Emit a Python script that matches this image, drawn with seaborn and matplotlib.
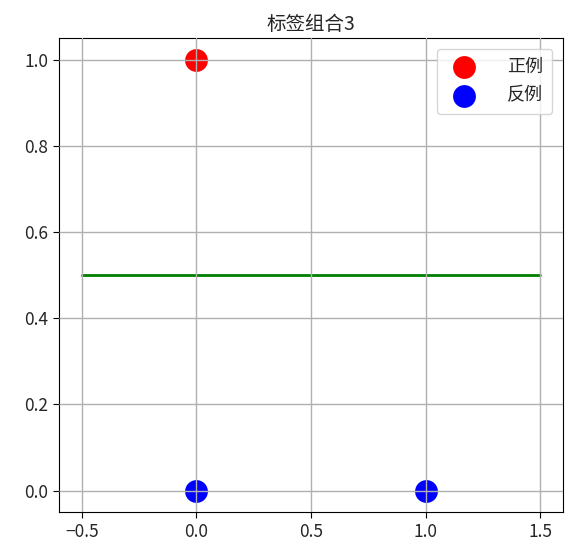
import numpy as np
import pandas as pd
import matplotlib
matplotlib.use('Agg')
import matplotlib.pyplot as plt
import seaborn as sns

# données
pos_x = [0]
pos_y = [1]
neg_x = [0, 1]
neg_y = [0, 0]
line_x = [-0.5, 1.5]
line_y = [0.5, 0.5]
titre = '标签组合3'
labels = ['正例', '反例']

sns.set_style('ticks')
plt.rcParams['font.family'] = ['Noto Sans CJK SC', 'DejaVu Sans']
plt.rcParams['axes.unicode_minus'] = True

fig = plt.figure(figsize=(5.83, 5.58), dpi=100)
ax = fig.add_axes([0.101, 0.082, 0.865, 0.850])

sns.scatterplot(x=pos_x, y=pos_y, color='red', s=270, linewidth=0, label=labels[0], ax=ax)
sns.scatterplot(x=neg_x, y=neg_y, color='blue', s=270, linewidth=0, label=labels[1], ax=ax)
sns.lineplot(x=line_x, y=line_y, color='green', linewidth=2, ax=ax)

ax.set_xlim(-0.6, 1.6)
ax.set_ylim(-0.05, 1.05)
ax.set_xticks([-0.5, 0.0, 0.5, 1.0, 1.5])
ax.set_yticks([0.0, 0.2, 0.4, 0.6, 0.8, 1.0])
ax.grid(True, color='#b0b0b0', linewidth=1)
ax.set_axisbelow(False)
for sp in ax.spines.values():
    sp.set_visible(True)
    sp.set_color('black')
ax.tick_params(labelsize=12.5, direction='out', length=4, color='black')
ax.set_title(titre, fontsize=14)
ax.legend(loc='upper right', fontsize=13, frameon=True, edgecolor='#cccccc',
          framealpha=0.8, fancybox=True, borderpad=0.5, labelspacing=0.6,
          handletextpad=1.4, borderaxespad=0.6)

fig.savefig('out.png', dpi=100)
